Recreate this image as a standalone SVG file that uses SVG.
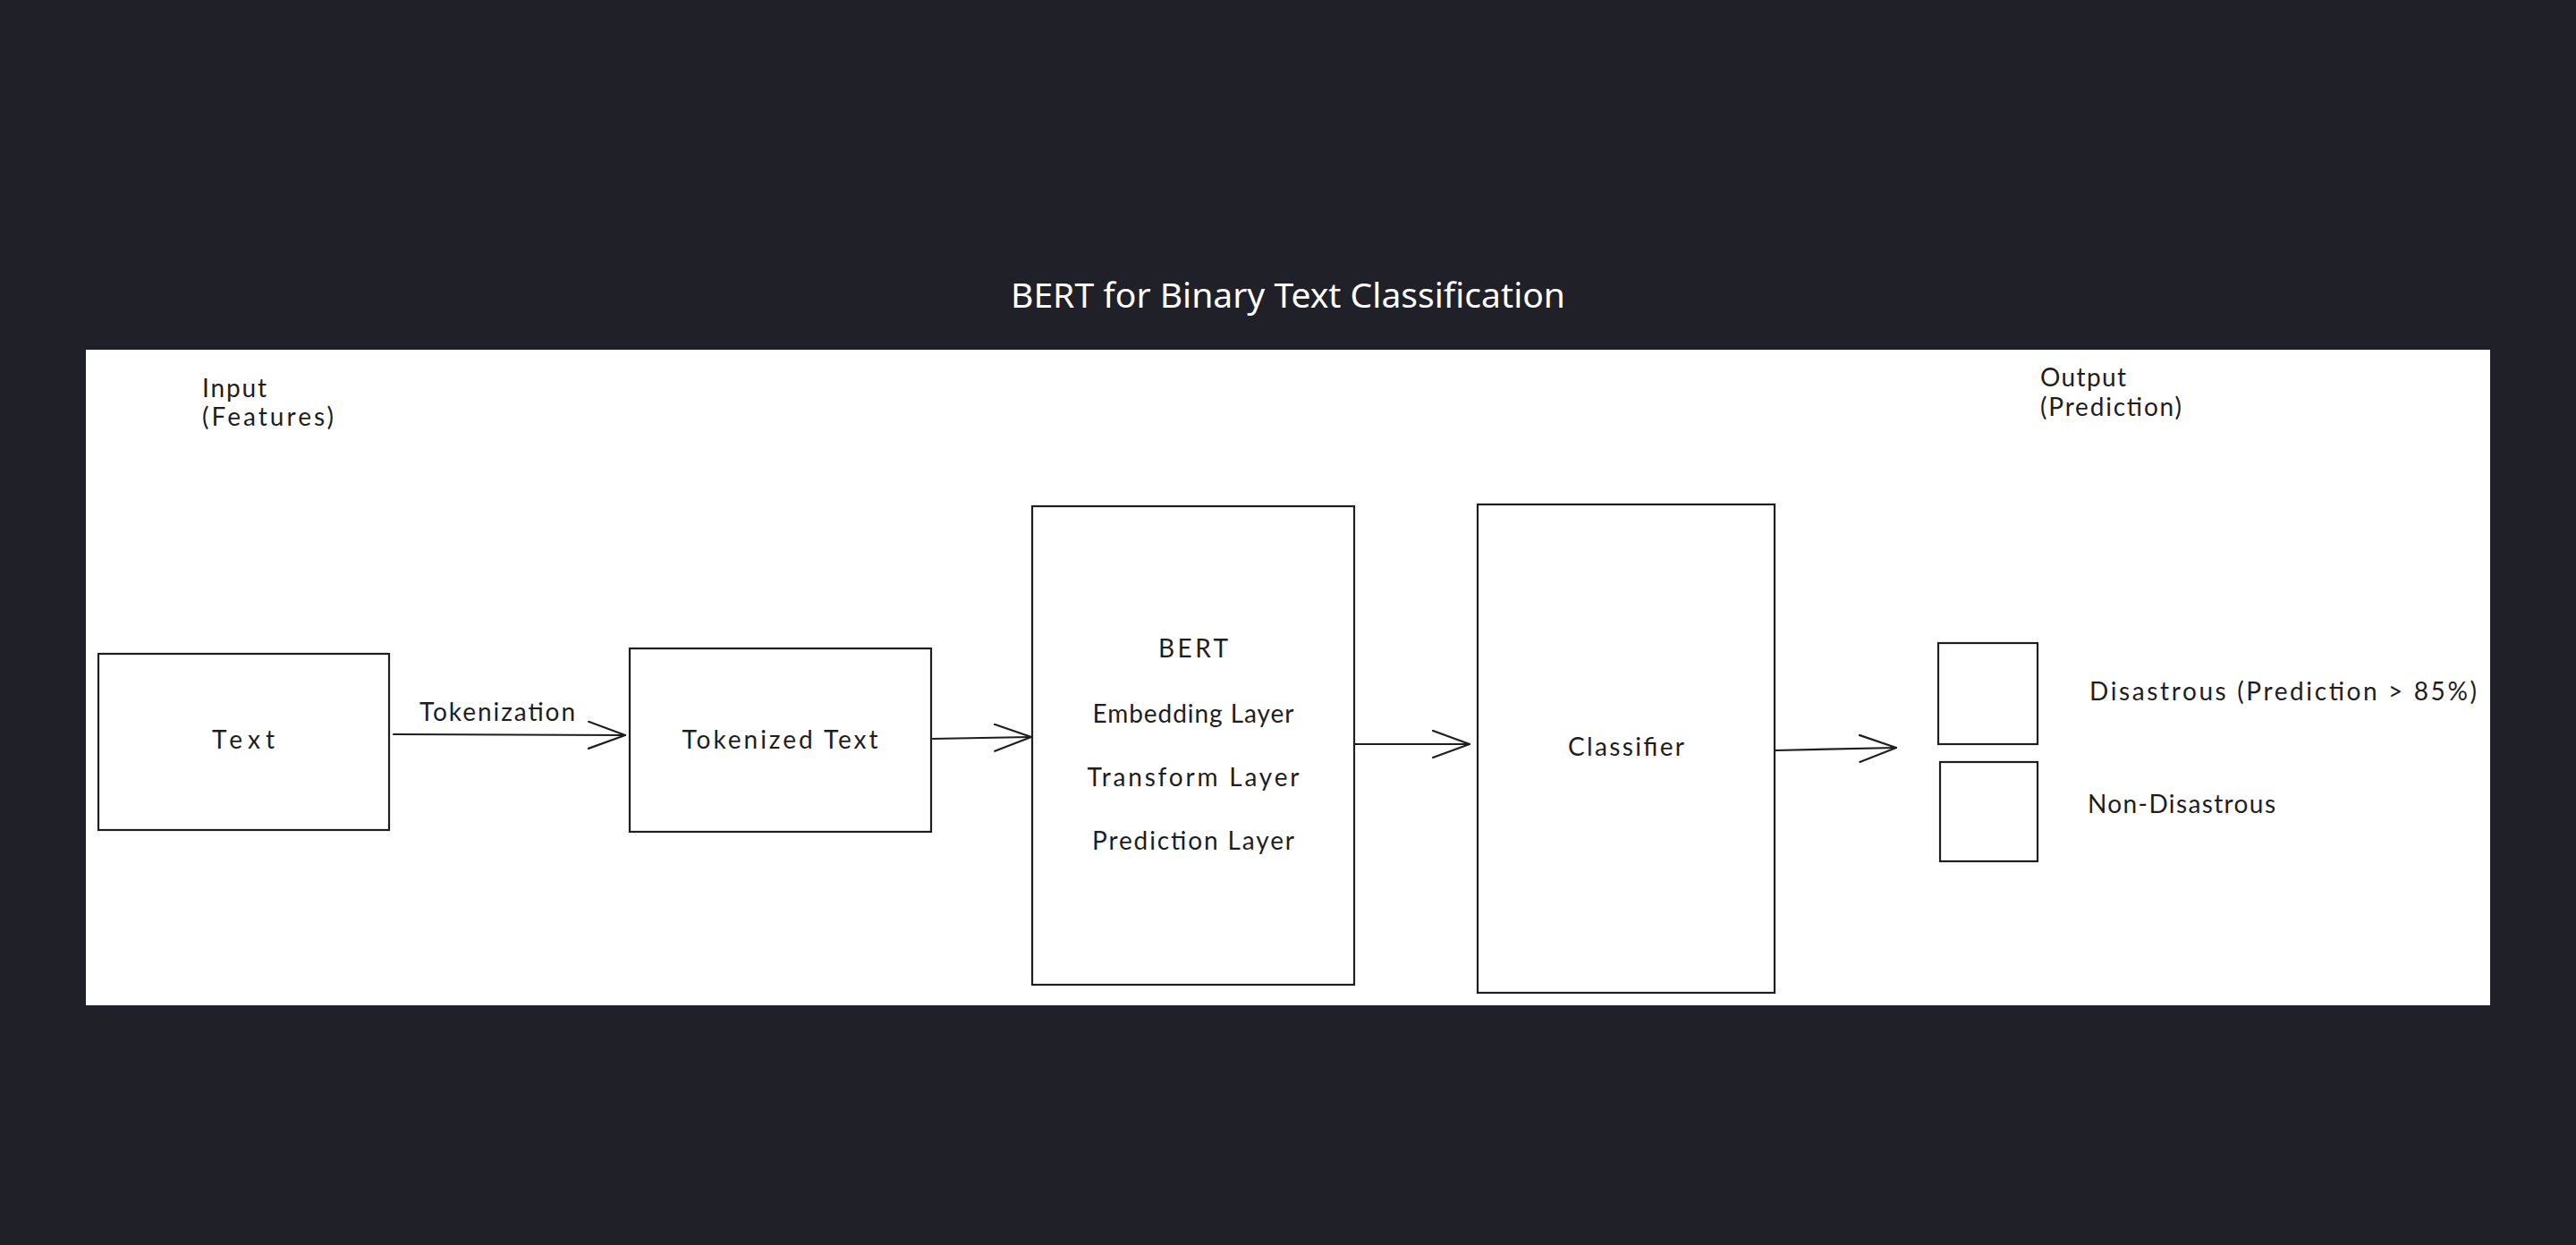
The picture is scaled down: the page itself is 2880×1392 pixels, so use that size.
<svg xmlns="http://www.w3.org/2000/svg" width="2880" height="1392" viewBox="0 0 2880 1392">
  <defs>
    <marker id="arrow" markerUnits="userSpaceOnUse" markerWidth="50" markerHeight="40" refX="42" refY="16" orient="auto">
      <path d="M1,1 L42,16 L1,31" fill="none" stroke="#1e1e1e" stroke-width="2.2" stroke-linecap="round" stroke-linejoin="round"/>
    </marker>
  </defs>
  <style>
    .box { fill: #ffffff; stroke: #1e1e1e; stroke-width: 2.2; }
    .lbl { font-family: Lato, "Noto Sans", sans-serif; font-size: 28px; fill: #1e1e1e; }
    .mid { text-anchor: middle; }
    .conn { fill: none; stroke: #1e1e1e; stroke-width: 2.2; stroke-linecap: round; }
  </style>
  <rect width="2880" height="1392" fill="#202029"/>
  <text x="1130" y="344" font-family="'Noto Sans', 'Open Sans', sans-serif" font-size="39" fill="#ffffff" textLength="620" lengthAdjust="spacingAndGlyphs">BERT for Binary Text Classification</text>
  <rect x="96" y="391" width="2688" height="733" fill="#ffffff"/>

  <g id="label-input">
    <text class="lbl" x="226" y="444" textLength="72">Input</text>
    <text class="lbl" x="226" y="476" textLength="147">(Features)</text>
  </g>
  <g id="label-output">
    <text class="lbl" x="2281" y="432" textLength="96">Output</text>
    <text class="lbl" x="2281" y="465" textLength="158">(Prediction)</text>
  </g>

  <g id="node-text">
    <rect class="box" x="110" y="731" width="325" height="197"/>
    <text class="lbl mid" x="272" y="837" textLength="70">Text</text>
  </g>
  <g id="node-tokenized">
    <rect class="box" x="704" y="725" width="337" height="205"/>
    <text class="lbl mid" x="872" y="837" textLength="219">Tokenized Text</text>
  </g>
  <g id="node-bert">
    <rect class="box" x="1154" y="566" width="360" height="535"/>
    <text class="lbl mid" x="1334" y="735" textLength="78">BERT</text>
    <text class="lbl mid" x="1334" y="808" textLength="225">Embedding Layer</text>
    <text class="lbl mid" x="1334" y="879" textLength="237">Transform Layer</text>
    <text class="lbl mid" x="1334" y="950" textLength="226">Prediction Layer</text>
  </g>
  <g id="node-classifier">
    <rect class="box" x="1652" y="564" width="332" height="546"/>
    <text class="lbl mid" x="1818" y="845" textLength="130">Classifier</text>
  </g>
  <g id="node-disastrous">
    <rect class="box" x="2167" y="719" width="111" height="113"/>
    <text class="lbl" x="2336" y="783" textLength="433">Disastrous (Prediction &gt; 85%)</text>
  </g>
  <g id="node-non-disastrous">
    <rect class="box" x="2169" y="852" width="109" height="111"/>
    <text class="lbl" x="2334" y="909" textLength="210">Non-Disastrous</text>
  </g>

  <g id="connectors">
    <line class="conn" x1="440" y1="821" x2="699" y2="822" marker-end="url(#arrow)"/>
    <text class="lbl" x="469" y="806" textLength="174">Tokenization</text>
    <line class="conn" x1="1043" y1="826" x2="1153" y2="824" marker-end="url(#arrow)"/>
    <line class="conn" x1="1515" y1="832" x2="1643" y2="832" marker-end="url(#arrow)"/>
    <line class="conn" x1="1985" y1="839" x2="2120" y2="836" marker-end="url(#arrow)"/>
  </g>
</svg>
